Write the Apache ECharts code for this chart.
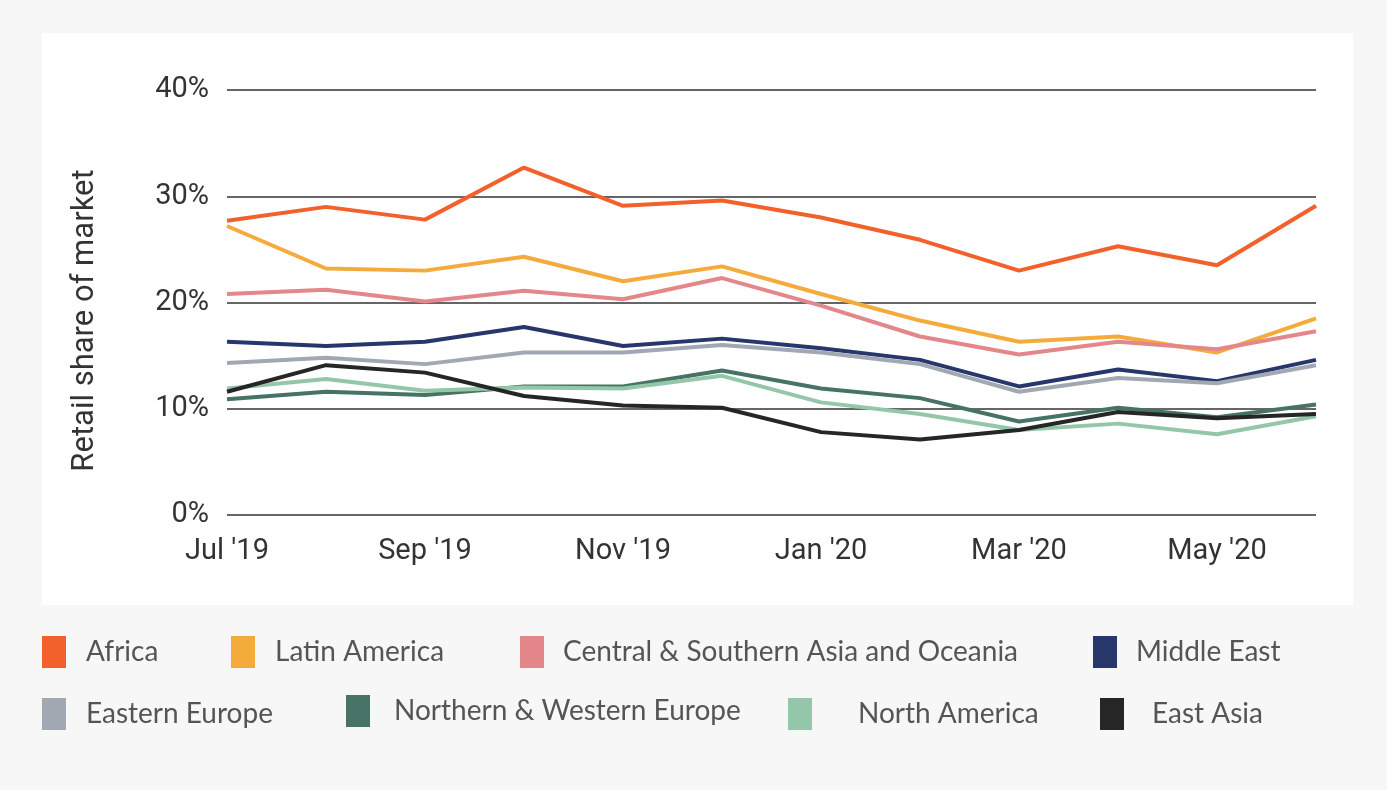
<!DOCTYPE html>
<html>
<head>
<meta charset="utf-8">
<script src="https://cdn.jsdelivr.net/npm/echarts@6/dist/echarts.min.js"></script>
<style>
  html, body { margin: 0; padding: 0; background: #f7f7f7; }
  #main { width: 1387px; height: 790px; }
</style>
</head>
<body>
<div id="main"></div>
<script>
var months = ["Jul '19", "Aug '19", "Sep '19", "Oct '19", "Nov '19", "Dec '19",
              "Jan '20", "Feb '20", "Mar '20", "Apr '20", "May '20", "Jun '20"];

var africa       = [27.7, 29.0, 27.8, 32.7, 29.1, 29.6, 28.0, 25.9, 23.0, 25.3, 23.5, 29.1];
var latinAmerica = [27.2, 23.2, 23.0, 24.3, 22.0, 23.4, 20.8, 18.3, 16.3, 16.8, 15.3, 18.5];
var centralAsia  = [20.8, 21.2, 20.1, 21.1, 20.3, 22.3, 19.7, 16.8, 15.1, 16.3, 15.6, 17.3];
var middleEast   = [16.3, 15.9, 16.3, 17.7, 15.9, 16.6, 15.7, 14.6, 12.1, 13.7, 12.6, 14.6];
var easternEur   = [14.3, 14.8, 14.2, 15.3, 15.3, 16.0, 15.3, 14.2, 11.6, 12.9, 12.4, 14.1];
var northWestEur = [10.9, 11.6, 11.3, 12.1, 12.1, 13.6, 11.9, 11.0, 8.8, 10.1, 9.2, 10.4];
var northAmerica = [11.9, 12.8, 11.7, 12.0, 11.9, 13.1, 10.6, 9.5, 8.0, 8.6, 7.6, 9.3];
var eastAsia     = [11.6, 14.1, 13.4, 11.2, 10.3, 10.1, 7.8, 7.1, 8.0, 9.7, 9.1, 9.5];

var yTicks = [0, 10, 20, 30, 40];

var seriesDefs = [
  { name: 'Africa', data: africa, color: '#f2612c' },
  { name: 'Latin America', data: latinAmerica, color: '#f4ab3c' },
  { name: 'Central & Southern Asia and Oceania', data: centralAsia, color: '#e4878b' },
  { name: 'Middle East', data: middleEast, color: '#27366b' },
  { name: 'Eastern Europe', data: easternEur, color: '#a1a8b2' },
  { name: 'Northern & Western Europe', data: northWestEur, color: '#467366' },
  { name: 'North America', data: northAmerica, color: '#94c7a9' },
  { name: 'East Asia', data: eastAsia, color: '#262626' }
];

// legend placement (one legend per item, as in the source layout)
var legendPos = [
  [42, 636], [231, 636], [520, 636], [1093, 636],
  [42, 698], [346, 695], [788, 698], [1100, 698]
];
var legendGap = [15, 15, 14, 14, 15, 19, 41, 23];

var myChart = echarts.init(document.getElementById('main'));

var legends = seriesDefs.map(function (s, i) {
  return {
    data: [s.name],
    left: legendPos[i][0],
    top: legendPos[i][1],
    padding: 0,
    itemWidth: 24,
    itemHeight: 32,
    icon: 'rect',
    selectedMode: false,
    textStyle: {
      color: '#555',
      fontSize: 28,
      fontFamily: 'Lato',
      padding: [i === 6 ? -6 : 0, 0, 0, legendGap[i]]
    }
  };
});

var option = {
  backgroundColor: '#f7f7f7',
  animation: false,
  graphic: [{
    type: 'rect',
    z: -10,
    shape: { x: 42, y: 33, width: 1311, height: 572 },
    style: { fill: '#ffffff' }
  }],
  legend: legends,
  grid: { left: 227, right: 71, top: 90, bottom: 275 },
  xAxis: {
    type: 'category',
    data: months,
    boundaryGap: false,
    axisLine: { show: false },
    axisTick: { show: false },
    axisLabel: {
      interval: 1,
      color: '#333',
      fontSize: 29,
      fontFamily: 'Roboto',
      margin: 22
    }
  },
  yAxis: {
    type: 'value',
    min: yTicks[0],
    max: yTicks[yTicks.length - 1],
    interval: 10,
    name: 'Retail share of market',
    nameLocation: 'middle',
    nameGap: 126,
    nameTextStyle: { color: '#333', fontSize: 31, fontFamily: 'Roboto', padding: [0, 36, 0, 0] },
    axisLine: { show: false },
    axisTick: { show: false },
    axisLabel: {
      color: '#333',
      fontSize: 29,
      fontFamily: 'Roboto',
      margin: 18,
      padding: [7, 0, 0, 0],
      formatter: '{value}%'
    },
    splitLine: { lineStyle: { color: '#333', width: 1.5 } }
  },
  series: seriesDefs.map(function (s) {
    return {
      name: s.name,
      type: 'line',
      data: s.data,
      symbol: 'none',
      color: s.color,
      lineStyle: { width: 4, color: s.color }
    };
  })
};

myChart.setOption(option);
</script>
</body>
</html>
